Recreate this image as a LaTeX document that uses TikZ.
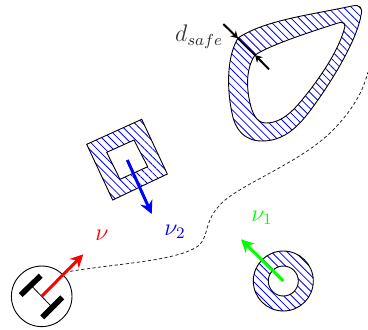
\documentclass[tikz,border=0pt]{standalone}
\usepackage{amsmath}
\usepackage{xcolor}
\usetikzlibrary{arrows.meta,patterns.meta}
\definecolor{navgreen}{RGB}{0,255,0}
\tikzset{
  obstacle/.style={draw=black,line width=0.45pt,even odd rule,
                   pattern={Lines[angle=-45,distance=2.8pt,line width=0.4pt]},pattern color=blue},
  flow/.style    ={-{Stealth[length=6.5pt,width=6.5pt]},line width=1.5pt},
  gap/.style     ={-{Stealth[length=3.5pt,width=4pt]},line width=1pt,draw=black},
  wheel/.style   ={line width=2.8pt,draw=black},
  trace/.style   ={dash pattern=on 1.6pt off 1.2pt,line width=0.4pt,draw=black!85},
  lbl/.style     ={inner sep=0pt},
}
\begin{document}
\begin{tikzpicture}[x=0.5pt,y=-0.5pt]
  \useasboundingbox (0,0) rectangle (368,329);
  % obstacles
  \draw[obstacle] (238,38) .. controls (265,20) and (310,15) .. (352,6)
    .. controls (360,4) and (363,8) .. (361,15)
    .. controls (358,35) and (340,68) .. (320,97)
    .. controls (305,118) and (290,141) .. (262,141)
    .. controls (245,141) and (235,130) .. (232,113)
    .. controls (228,95) and (225,60) .. (238,38) -- cycle
    (255,55) .. controls (270,45) and (310,32) .. (338,23)
    .. controls (345,21) and (346,25) .. (344,30)
    .. controls (338,50) and (325,70) .. (310,90)
    .. controls (298,105) and (285,123) .. (266,123)
    .. controls (256,123) and (252,112) .. (250,103)
    .. controls (247,90) and (245,70) .. (255,55) -- cycle;
  \draw[obstacle] (86.7,144.3) -- (141.7,119.3) -- (167.3,174) -- (112.7,200) -- cycle
    (106.7,152.3) -- (134,140) -- (147.7,166.7) -- (120,179.3) -- cycle;
  \coordinate (hub) at (283.3,281);
  \draw[obstacle] (hub) circle[radius=30] (hub) circle[radius=15];
  % robot
  \coordinate (robot) at (41.7,296.3);
  \node[draw,circle,line width=0.45pt,minimum size=30.3pt,inner sep=0pt] (body) at (robot) {};
  \draw[wheel] (20.7,295) -- (40.7,275.7);
  \draw[wheel] (42.3,317.3) -- (62.3,297.3);
  \draw[line width=0.4pt] (30.7,285) -- (51.7,306.7);
  % planned path
  \coordinate (goal) at (368,72);
  \draw[trace] (body) ++(23,-24) .. controls (110,264) and (170,262) .. (195,248)
    .. controls (212,238) and (200,222) .. (225,200)
    .. controls (250,180) and (305,160) .. (335,128)
    .. controls (350,112) and (362,95) .. (goal);
  % velocities
  \coordinate (robothead) at (83.3,254.3);
  \coordinate (squarecentre) at (127.3,160);
  \coordinate (squarehead) at (151.7,214);
  \coordinate (hubhead) at (241,239.3);
  \draw[flow,red] (robot) -- (robothead);
  \draw[flow,blue] (squarecentre) -- (squarehead);
  \draw[flow,navgreen] (hub) -- (hubhead);
  % safe distance
  \coordinate (gapa) at (238,38.3);
  \coordinate (gapb) at (255,55);
  \coordinate (gapa0) at (223.3,24);
  \coordinate (gapb0) at (269,69.3);
  \draw[line width=1pt] (gapa) -- (gapb);
  \draw[gap] (gapa0) -- (gapa);
  \draw[gap] (gapb0) -- (gapb);
  % labels
  \node[lbl,text=black!80] (dsafe) at (199,37) {\large$d_{safe}$};
  \node[lbl,text=red] (nu) at (102,235) {\large$\nu$};
  \node[lbl,text=blue] (nutwo) at (175,232) {\large$\nu_2$};
  \node[lbl,text=navgreen] (nuone) at (262,218) {\large$\nu_1$};
\end{tikzpicture}
\end{document}
